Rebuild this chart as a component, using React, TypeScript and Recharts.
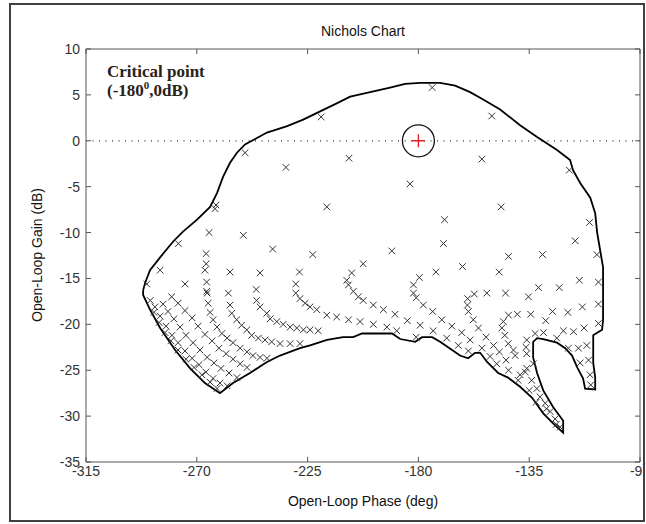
import React from 'react';
import { ComposedChart, Scatter, XAxis, YAxis, ReferenceLine, ReferenceDot } from 'recharts';

const phaseTicks = [-315, -270, -225, -180, -135, -90];
const gainTicks = [-35, -30, -25, -20, -15, -10, -5, 0, 5, 10];

const boundary: [number, number][] = [
  [-291.8, -16.3], [-291.0, -15.5], [-289.0, -14.1], [-284.9, -12.7], [-279.7, -11.0], [-275.6, -9.9],
  [-269.9, -8.6], [-264.6, -7.2], [-261.8, -5.7], [-259.3, -3.9], [-256.5, -2.4], [-253.7, -1.3],
  [-250.4, -0.4], [-246.3, 0.2], [-241.5, 0.9], [-233.3, 1.6], [-226.8, 2.3], [-219.9, 3.2],
  [-213.8, 4.0], [-207.7, 4.8], [-199.6, 5.3], [-191.5, 5.8], [-185.4, 6.2], [-179.3, 6.3],
  [-171.2, 6.3], [-165.1, 6.0], [-159.0, 5.3], [-153.7, 4.5], [-146.8, 3.4], [-138.7, 1.7],
  [-131.8, 0.4], [-123.7, -1.0], [-118.4, -2.1], [-117.2, -3.2], [-114.3, -4.6], [-110.2, -6.2],
  [-108.2, -7.9], [-107.4, -10.0], [-106.2, -11.9], [-105.0, -13.8], [-105.0, -19.5], [-105.4, -20.6],
  [-109.0, -21.2], [-109.0, -24.2], [-108.2, -25.8], [-108.2, -27.1], [-112.3, -27.0], [-113.1, -25.9],
  [-115.5, -24.7], [-117.6, -23.4], [-120.4, -22.6], [-123.7, -22.0], [-129.3, -21.6], [-131.8, -21.5],
  [-133.4, -21.9], [-133.4, -23.6], [-131.8, -25.3], [-129.3, -27.2], [-125.3, -29.0], [-121.2, -30.5],
  [-121.2, -31.8], [-125.3, -30.8], [-129.3, -29.7], [-133.8, -28.0], [-138.7, -26.8], [-143.6, -25.8],
  [-147.6, -25.3], [-152.1, -24.1], [-154.9, -23.1], [-157.0, -23.1], [-159.8, -23.7], [-163.1, -23.4],
  [-166.3, -22.8], [-171.2, -21.9], [-174.4, -21.4], [-178.5, -21.4], [-181.3, -21.9], [-187.4, -21.6],
  [-190.7, -21.0], [-196.8, -21.0], [-202.9, -21.0], [-206.5, -21.4], [-210.6, -21.4], [-217.1, -21.7],
  [-224.0, -22.3], [-228.1, -22.6], [-236.2, -23.4], [-241.5, -24.1], [-248.4, -25.3], [-255.3, -26.4],
  [-260.6, -27.5], [-266.7, -26.4], [-272.7, -24.8], [-278.8, -22.8], [-284.9, -20.4], [-289.0, -18.4],
  [-291.8, -16.8], [-291.8, -16.3],
];

const upperMarkers: [number, number][] = [
  [-174.4, 5.8], [-219.5, 2.6], [-150.2, 2.7], [-250.4, -1.3], [-233.8, -2.9], [-208.2, -1.9],
  [-154.2, -2.0], [-183.4, -4.7], [-146.4, -7.2], [-169.4, -8.6], [-118.7, -3.2], [-110.5, -8.9],
  [-116.3, -10.9], [-107.5, -12.4], [-106.9, -15.4], [-190.8, -12.0], [-169.8, -11.2], [-143.4, -12.6],
  [-129.6, -12.4], [-162.1, -13.7], [-172.9, -14.3], [-147.2, -14.3], [-114.6, -15.2], [-262.2, -7.0],
  [-262.6, -7.4], [-217.2, -7.2], [-265.0, -10.0], [-251.1, -10.3], [-239.2, -11.8], [-222.9, -12.4],
  [-277.5, -11.2], [-284.9, -14.1], [-290.3, -15.6], [-274.8, -15.6], [-256.5, -14.3], [-244.3, -14.4],
  [-228.3, -14.3], [-202.4, -13.4],
];

const leftArcMarkers: [number, number][] = [
  [-266.2, -12.3], [-266.2, -13.4], [-266.7, -14.1], [-266.0, -15.4], [-266.0, -16.4], [-265.8, -16.6],
  [-265.4, -17.7], [-264.6, -18.7], [-263.4, -19.5], [-261.8, -20.3], [-259.8, -21.0], [-257.7, -21.5],
  [-255.3, -22.0], [-252.4, -22.6], [-249.6, -23.0], [-247.2, -23.4], [-244.3, -23.6], [-241.5, -23.7],
  [-280.2, -17.0], [-277.6, -17.7], [-274.8, -18.5], [-271.9, -19.3], [-269.5, -20.2], [-266.7, -21.1],
  [-263.8, -21.8], [-261.0, -22.6], [-258.1, -23.2], [-255.3, -23.8], [-252.4, -24.3], [-249.6, -24.7],
  [-283.7, -17.8], [-281.7, -18.6], [-279.3, -19.4], [-276.8, -20.3], [-274.4, -21.2], [-271.5, -22.0],
  [-268.7, -22.8], [-265.8, -23.6], [-263.0, -24.2], [-260.2, -24.8], [-256.9, -25.3], [-253.7, -25.8],
  [-287.0, -18.1], [-284.9, -19.1], [-282.5, -20.2], [-280.1, -21.2], [-277.6, -22.0], [-274.8, -22.9],
  [-271.9, -23.7], [-269.1, -24.4], [-266.3, -25.2], [-263.4, -25.9], [-260.6, -26.4], [-257.7, -26.7],
  [-288.9, -17.4], [-287.4, -18.7], [-285.3, -19.8], [-282.9, -20.9], [-280.5, -21.8], [-277.6, -22.8],
  [-274.4, -23.8], [-271.1, -24.7], [-267.9, -25.5], [-264.6, -26.3], [-261.8, -27.0],
  [-257.2, -16.6], [-256.5, -17.9], [-255.8, -18.8], [-253.8, -19.5], [-251.8, -20.1], [-249.7, -20.6],
  [-247.7, -21.2], [-245.0, -21.5], [-242.3, -21.7], [-239.6, -21.9], [-236.2, -22.1], [-232.1, -22.1],
  [-228.1, -22.1],
  [-245.9, -16.2], [-245.7, -17.4], [-244.3, -18.1], [-241.6, -18.8], [-240.2, -19.4], [-237.5, -19.7],
  [-234.9, -20.0], [-232.1, -20.3], [-229.4, -20.4], [-226.7, -20.6], [-224.0, -20.6], [-220.7, -20.7],
  [-229.8, -15.6], [-229.8, -16.6], [-228.1, -17.2], [-226.0, -17.7], [-224.0, -18.1], [-221.3, -18.4],
  [-217.2, -19.0], [-213.2, -19.2], [-208.4, -19.5], [-203.7, -19.7], [-198.3, -20.0], [-192.8, -20.3],
  [-188.8, -20.7],
  [-207.1, -14.4], [-209.1, -15.2], [-208.4, -15.7], [-206.4, -16.4], [-204.4, -17.0], [-202.4, -17.4],
  [-198.3, -17.9], [-194.2, -18.4], [-189.5, -18.9], [-184.5, -19.6], [-179.3, -20.1], [-174.0, -20.7],
  [-168.5, -21.5], [-163.8, -22.3], [-159.7, -22.9],
];

const rightArcMarkers: [number, number][] = [
  [-179.6, -14.9], [-182.0, -15.7], [-182.0, -16.6], [-180.9, -17.1], [-178.0, -17.9], [-174.2, -18.6],
  [-170.5, -19.5], [-166.4, -20.2], [-162.4, -20.9], [-159.0, -21.7], [-180.9, -21.4],
  [-157.3, -16.7], [-160.0, -17.2], [-160.1, -17.9], [-159.7, -18.6], [-157.7, -19.5], [-155.6, -20.4],
  [-152.5, -21.4], [-149.5, -22.3], [-147.1, -23.0], [-144.4, -23.9], [-154.2, -22.6], [-150.9, -23.5],
  [-148.2, -24.3], [-143.4, -25.0], [-138.7, -25.5], [-134.0, -26.1], [-131.9, -27.0], [-130.6, -27.9],
  [-128.5, -28.6], [-126.5, -29.5], [-124.5, -30.3], [-122.4, -31.2], [-140.7, -23.4], [-136.0, -24.8],
  [-133.3, -24.3], [-139.5, -26.1], [-136.6, -25.2], [-135.0, -27.2], [-132.2, -28.5], [-128.0, -29.2],
  [-124.0, -30.9],
  [-143.4, -19.0], [-145.5, -19.7], [-146.1, -20.4], [-144.9, -21.2], [-143.5, -22.1], [-141.4, -22.8],
  [-139.8, -18.9], [-134.4, -18.9], [-136.0, -21.7], [-136.3, -22.5], [-136.0, -23.2],
  [-128.3, -19.6], [-125.5, -18.6], [-119.3, -18.7], [-113.4, -18.1], [-106.9, -17.8], [-106.9, -19.9],
  [-112.7, -20.4], [-117.0, -20.8], [-121.1, -20.7], [-123.8, -21.5], [-129.2, -20.9], [-132.6, -21.0],
  [-119.1, -22.6], [-115.0, -22.6], [-111.6, -22.3], [-114.3, -24.2], [-110.9, -23.9], [-110.3, -25.5],
  [-110.0, -26.6], [-135.3, -17.0], [-131.2, -16.0], [-122.8, -16.0], [-152.2, -16.6], [-144.6, -16.6],
];

const criticalPoint: [number, number][] = [[-180, 0]];

const toPts = (a: [number, number][]) => a.map(([phase, gain]) => ({ phase, gain }));

const FONT = '"Liberation Sans", Arial, sans-serif';
const AXIS = '#555';
const TXT = '#333';

const Cross = (p: any) => {
  const { cx, cy } = p;
  if (cx == null || cy == null) return <g />;
  const s = 3.3;
  return (
    <path
      d={`M${cx - s},${cy - s}L${cx + s},${cy + s}M${cx - s},${cy + s}L${cx + s},${cy - s}`}
      stroke="#333"
      strokeWidth={1}
      fill="none"
    />
  );
};

const Plus = (p: any) => {
  const { cx, cy } = p;
  if (cx == null || cy == null) return <g />;
  const s = 6.5;
  return (
    <path d={`M${cx - s},${cy}L${cx + s},${cy}M${cx},${cy - s}L${cx},${cy + s}`} stroke="#e8202a" strokeWidth={1.4} fill="none" />
  );
};

const Empty = () => <g />;

const BottomTick = (p: any) => (
  <g>
    <line x1={p.x} x2={p.x} y1={p.y - 4} y2={p.y - 9} stroke={AXIS} />
    <text x={p.x} y={p.y} dy={10} textAnchor="middle" fill={TXT} fontSize={14} fontFamily={FONT}>
      {p.payload.value}
    </text>
  </g>
);

const LeftTick = (p: any) => (
  <g>
    <line x1={p.x + 6} x2={p.x + 11} y1={p.y} y2={p.y} stroke={AXIS} />
    <text x={p.x} y={p.y} dy={5} textAnchor="end" fill={TXT} fontSize={14} fontFamily={FONT}>
      {p.payload.value}
    </text>
  </g>
);

const TopTick = (p: any) => <line x1={p.x} x2={p.x} y1={p.y} y2={p.y + 5} stroke={AXIS} />;
const RightTick = (p: any) => <line x1={p.x} x2={p.x - 5} y1={p.y} y2={p.y} stroke={AXIS} />;

export default function App() {
  return (
    <div style={{ position: 'absolute', left: 0, top: 0, width: 646, height: 524, background: '#fff' }}>
      <div style={{ position: 'absolute', left: 0, top: 0, width: 642, height: 524, overflow: 'hidden' }}>
        <ComposedChart width={646} height={524} margin={{ top: 29, right: 0, bottom: 0, left: 0 }}>
          <XAxis
            xAxisId="b"
            dataKey="phase"
            type="number"
            domain={[-315, -90]}
            ticks={phaseTicks}
            interval={0}
            allowDataOverflow
            height={62}
            tickSize={0}
            tickMargin={4}
            tickLine={false}
            tick={BottomTick}
            axisLine={{ stroke: AXIS }}
          />
          <XAxis
            xAxisId="t"
            orientation="top"
            dataKey="phase"
            type="number"
            domain={[-315, -90]}
            ticks={phaseTicks}
            interval={0}
            allowDataOverflow
            height={20}
            tickSize={0}
            tickMargin={0}
            tickLine={false}
            tick={TopTick}
            axisLine={{ stroke: AXIS }}
          />
          <YAxis
            yAxisId="l"
            dataKey="gain"
            type="number"
            domain={[-35, 10]}
            ticks={gainTicks}
            interval={0}
            allowDataOverflow
            width={86}
            tickSize={0}
            tickMargin={6}
            tickLine={false}
            tick={LeftTick}
            axisLine={{ stroke: AXIS }}
          />
          <YAxis
            yAxisId="r"
            orientation="right"
            dataKey="gain"
            type="number"
            domain={[-35, 10]}
            ticks={gainTicks}
            interval={0}
            allowDataOverflow
            width={6}
            tickSize={0}
            tickMargin={0}
            tickLine={false}
            tick={RightTick}
            axisLine={{ stroke: AXIS }}
          />
          <ReferenceLine xAxisId="b" yAxisId="l" y={0} stroke="#333" strokeDasharray="1 5.5" strokeWidth={1.2} />
          <Scatter
            xAxisId="b"
            yAxisId="l"
            data={toPts(boundary)}
            line={{ stroke: '#000', strokeWidth: 1.8 }}
            lineType="joint"
            shape={Empty}
            isAnimationActive={false}
          />
          <Scatter xAxisId="b" yAxisId="l" data={toPts(upperMarkers)} shape={Cross} isAnimationActive={false} />
          <Scatter xAxisId="b" yAxisId="l" data={toPts(leftArcMarkers)} shape={Cross} isAnimationActive={false} />
          <Scatter xAxisId="b" yAxisId="l" data={toPts(rightArcMarkers)} shape={Cross} isAnimationActive={false} />
          <ReferenceDot xAxisId="b" yAxisId="l" x={-180} y={0} r={16} fill="none" stroke="#111" strokeWidth={1.3} />
          <Scatter xAxisId="t" yAxisId="r" data={toPts(criticalPoint)} shape={Plus} isAnimationActive={false} />
        </ComposedChart>
      </div>
      <div
        style={{
          position: 'absolute', left: 86, width: 554, top: 23, textAlign: 'center',
          fontFamily: FONT, fontSize: 14, lineHeight: '16px', color: '#111',
        }}
      >
        Nichols Chart
      </div>
      <div
        style={{
          position: 'absolute', left: 86, width: 554, top: 493, textAlign: 'center',
          fontFamily: FONT, fontSize: 14, lineHeight: '16px', color: '#111',
        }}
      >
        Open-Loop Phase (deg)
      </div>
      <div
        style={{
          position: 'absolute', left: 37, top: 255, transform: 'translate(-50%, -50%) rotate(-90deg)',
          whiteSpace: 'nowrap', fontFamily: FONT, fontSize: 14, lineHeight: '16px', color: '#111',
        }}
      >
        Open-Loop Gain (dB)
      </div>
      <div
        style={{
          position: 'absolute', left: 107, top: 62, fontFamily: '"Liberation Serif", "Times New Roman", serif',
          fontWeight: 'bold', fontSize: 17, lineHeight: '19px', color: '#2a2218', whiteSpace: 'nowrap',
        }}
      >
        <div>Critical point</div>
        <div>
          (-180<span style={{ fontSize: 11, verticalAlign: 'top', lineHeight: '11px', position: 'relative', top: -1 }}>0</span>,0dB)
        </div>
      </div>
      <div
        style={{
          position: 'absolute', left: 9, top: 3, width: 636, height: 519, boxSizing: 'border-box',
          border: '2px solid #404040', pointerEvents: 'none',
        }}
      />
    </div>
  );
}
